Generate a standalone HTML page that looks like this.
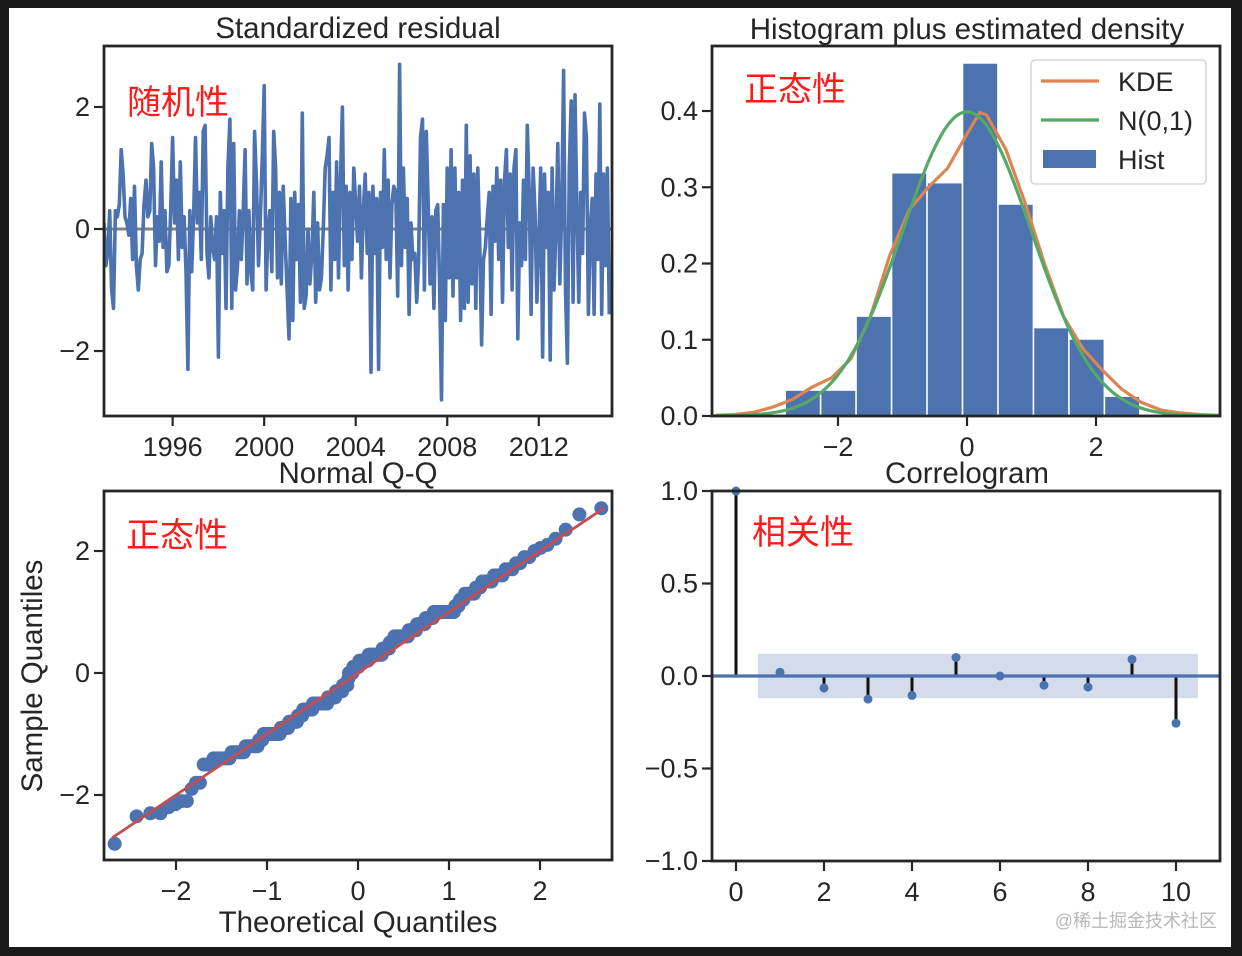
<!DOCTYPE html>
<html><head><meta charset="utf-8"><style>
html,body{margin:0;padding:0;background:#1a1a1a;}
#wrap{position:relative;width:1242px;height:956px;background:#1a1a1a;overflow:hidden;}
svg{position:absolute;left:0;top:0;}
text{font-family:"Liberation Sans","Noto Sans CJK SC",sans-serif;fill:#262626;}
.cn{font-family:"Liberation Sans","Noto Sans CJK SC",sans-serif;fill:#ff1a1a;}
</style></head><body>
<div id="wrap">
<svg id="s" width="1242" height="956"></svg>
</div>
<script>
const residuals=[0.1,-0.6,-0.4,0.3,-1.0,-1.3,0.3,0.2,0.4,1.3,0.9,0.2,
0.1,-0.1,0.5,-0.5,0.7,-0.6,-1.0,-0.5,-0.4,0.4,0.8,0.2,
0.3,1.4,1.0,-0.6,0.2,-0.2,1.1,-0.3,0.3,-0.7,-0.6,0.3,
1.5,0.1,0.8,-0.5,1.1,-0.3,0.2,-0.7,-2.3,0.3,-0.7,0.2,
1.5,0.1,0.6,-0.5,1.6,1.7,-0.4,-0.8,0.2,-0.3,-0.5,0.2,
-2.1,0.6,-0.4,0.3,-1.3,1.0,1.8,-1.3,1.4,-1.0,-0.6,0.3,
-0.5,0.3,1.3,-0.9,0.3,-0.7,-1.0,1.6,0.7,-0.6,0.2,1.2,
2.35,-1.0,0.0,0.3,-0.7,1.6,1.0,-0.8,0.6,-0.9,0.7,-0.2,
-1.0,-1.8,0.5,-1.5,0.6,-0.5,0.4,-1.2,1.9,-1.3,-1.1,0.0,
-0.9,-0.4,0.6,-1.2,0.1,-1.0,-0.8,0.0,1.0,1.2,1.5,-1.0,
0.6,-0.5,1.1,-0.8,0.8,2.0,-0.6,0.7,-1.0,0.6,-0.5,1.0,
0.4,-0.2,0.7,-0.8,0.3,0.9,-0.4,0.6,-2.35,0.7,-0.4,0.5,
-2.3,0.6,-0.3,1.3,-0.5,0.8,-0.8,0.4,0.7,0.6,-1.1,2.7,
-0.6,1.0,-0.3,0.5,-1.4,0.1,-0.5,-0.4,-1.2,-0.5,1.5,1.8,
-1.0,1.6,0.4,-0.9,0.2,-1.3,0.3,0.4,-0.9,-2.8,0.4,-1.5,
1.0,-0.8,1.3,-1.1,1.0,-0.8,0.6,-1.5,0.8,-1.3,1.7,-1.2,
1.2,-0.9,0.9,-1.3,1.0,-0.2,-1.9,-0.5,-0.3,0.2,0.6,-1.4,
0.7,-0.2,1.0,-0.5,0.8,-1.2,0.8,1.3,-0.3,0.9,-1.0,1.0,
1.3,-1.8,0.1,-0.6,0.8,-0.5,1.7,0.6,-1.4,1.0,0.3,-1.2,
-0.2,1.0,-2.1,0.9,-0.3,0.6,-2.15,1.0,-1.0,0.0,1.4,-0.9,
0.3,2.6,-1.0,-2.2,1.0,2.1,-1.2,2.2,0.3,-1.2,0.6,-0.4,
1.9,1.5,-1.4,0.0,0.5,-1.4,0.9,-0.5,2.05,-1.4,0.9,-0.6,
1.0,-1.4];
const startYear=1993.0;
const yearTicks=[1996,2000,2004,2008,2012];
const residTicks=[-2,0,2];
const histEdgesStart=-2.82, histBinWidth=0.55;
const histHeights=[0.033,0.033,0.13,0.318,0.305,0.462,0.277,0.115,0.10,0.025];
const kdeX=[-3.9,-3.6,-3.3,-3.0,-2.7,-2.4,-2.1,-1.8,-1.5,-1.2,-0.9,-0.6,-0.3,0.0,0.2,0.3,0.6,0.9,1.2,1.5,1.8,2.1,2.4,2.7,3.0,3.3,3.6,3.9];
const kdeY=[0.001,0.002,0.005,0.012,0.022,0.038,0.05,0.075,0.13,0.21,0.27,0.30,0.325,0.37,0.398,0.395,0.35,0.28,0.20,0.13,0.088,0.06,0.035,0.018,0.008,0.004,0.002,0.001];
const histYTicks=[0.0,0.1,0.2,0.3,0.4];
const histXTicks=[-2,0,2];
const qqXTicks=[-2,-1,0,1,2];
const qqYTicks=[-2,0,2];
const acfLags=[0,1,2,3,4,5,6,7,8,9,10];
const acfValues=[1.0,0.02,-0.065,-0.125,-0.105,0.10,0.0,-0.05,-0.06,0.09,-0.255];
const acfConf=0.12;
const acfYTicks=[-1.0,-0.5,0.0,0.5,1.0];
const acfXTicks=[0,2,4,6,8,10];

const NS="http://www.w3.org/2000/svg";
const svg=document.getElementById('s');
function el(tag,attrs,parent,text){const e=document.createElementNS(NS,tag);for(const k in attrs)e.setAttribute(k,attrs[k]);if(text!==undefined)e.textContent=text;(parent||svg).appendChild(e);return e;}
function fmt(v,d){const s=Math.abs(v).toFixed(d);return (v<0?'\u2212':'')+s;}
function lin(d0,d1,p0,p1){return v=>p0+(v-d0)*(p1-p0)/(d1-d0);}

const bg=el('rect',{x:9,y:8,width:1222,height:939,fill:'#fff'});



const TF=27;
function axesFrame(g,L,T,R,B){const r=el('rect',{x:L,y:T,width:R-L,height:B-T,fill:'none',stroke:'#262626','stroke-width':2.8},g);

}
function yTick(g,L,y,label,name){const t=el('line',{x1:L-10,x2:L,y1:y,y2:y,stroke:'#262626','stroke-width':2.2},g);


const tx=el('text',{x:L-14,y:y+9,'text-anchor':'end','font-size':TF},g,label);

}
function xTick(g,B,x,label,name){const t=el('line',{x1:x,x2:x,y1:B,y2:B+10,stroke:'#262626','stroke-width':2.2},g);


const tx=el('text',{x:x,y:B+40,'text-anchor':'middle','font-size':TF},g,label);

}
function title(g,x,y,t,name){const e=el('text',{x:x,y:y,'text-anchor':'middle','font-size':29.5},g,t);

}
function cn(g,x,y,t,name){const e=el('text',{x:x,y:y,'font-size':34,class:'cn'},g,t);

}
function clip(id,L,T,R,B){const d=el('clipPath',{id:id});el('rect',{x:L,y:T,width:R-L,height:B-T},d);}

// Panel 1
{const L=104,T=46,R=612,B=416;
const g=el('g',{});


clip('c1',L,T,R,B);
const xs=lin(1993.0,2015.2,L,R), ys=lin(0,2,229,107);
const z=el('line',{x1:L,x2:R,y1:ys(0),y2:ys(0),stroke:'#808080','stroke-width':3},g);


const pts=residuals.map((v,i)=>xs(startYear+i/12).toFixed(1)+','+ys(v).toFixed(1)).join(' ');
const pl=el('polyline',{points:pts,fill:'none',stroke:'#4c72b0','stroke-width':3.6,'stroke-linejoin':'round','clip-path':'url(#c1)'},g);


axesFrame(g,L,T,R,B);
residTicks.forEach(v=>yTick(g,L,ys(v),fmt(v,0),'resid-y'));
yearTicks.forEach(v=>xTick(g,B,xs(v),String(v),'year-x'));
title(g,358,38,'Standardized residual','resid-title');
cn(g,127,114,'随机性','randomness-label');}

// Panel 2
{const L=712,T=46,R=1220,B=416;
const g=el('g',{});


clip('c2',L,T,R,B);
const xs=lin(0,2,967,1096), ys=lin(0,0.4,416,111);
histHeights.forEach((h,i)=>{const x0=xs(histEdgesStart+i*histBinWidth),x1=xs(histEdgesStart+(i+1)*histBinWidth);
const r=el('rect',{x:x0+0.8,y:ys(h),width:x1-x0-1.6,height:ys(0)-ys(h),fill:'#4c72b0'},g);

});
const kp=kdeX.map((x,i)=>xs(x).toFixed(1)+','+ys(kdeY[i]).toFixed(1)).join(' ');
const k=el('polyline',{points:kp,fill:'none',stroke:'#dd8452','stroke-width':3.2,'clip-path':'url(#c2)'},g);


let np=[];for(let x=-3.95;x<=3.95;x+=0.05){np.push(xs(x).toFixed(1)+','+ys(Math.exp(-x*x/2)/Math.sqrt(2*Math.PI)).toFixed(1));}
const n=el('polyline',{points:np.join(' '),fill:'none',stroke:'#55a868','stroke-width':3.2,'clip-path':'url(#c2)'},g);


axesFrame(g,L,T,R,B);
histYTicks.forEach(v=>yTick(g,L,ys(v),v.toFixed(1),'hist-y'));
histXTicks.forEach(v=>xTick(g,B,xs(v),fmt(v,0),'hist-x'));
title(g,967,39,'Histogram plus estimated density','hist-title');
cn(g,744,101,'正态性','normality-label-hist');
const lg=el('g',{},g);


el('rect',{x:1031,y:60,width:175,height:124,rx:4,fill:'#fff',stroke:'#d6d6d6','stroke-width':1.5},lg);
const items=[['KDE','#dd8452',81],['N(0,1)','#55a868',120]];
items.forEach(it=>{const l=el('line',{x1:1041,x2:1099,y1:it[2],y2:it[2],stroke:it[1],'stroke-width':3.2},lg);


const t=el('text',{x:1118,y:it[2]+10,'font-size':TF},lg,it[0]);

});
const hb=el('rect',{x:1043,y:150,width:53,height:18,fill:'#4c72b0'},lg);


const ht=el('text',{x:1118,y:169,'font-size':TF},lg,'Hist');

}

function ppf(p){const a=[-39.69683028665376,220.9460984245205,-275.9285104469687,138.357751867269,-30.66479806614716,2.506628277459239],
b=[-54.47609879822406,161.5858368580409,-155.6989798598866,66.80131188771972,-13.28068155288572],
c=[-0.007784894002430293,-0.3223964580411365,-2.400758277161838,-2.549732539343734,4.374664141464968,2.938163982698783],
d=[0.007784695709041462,0.3224671290700398,2.445134137142996,3.754408661907416];
let q,r;if(p<0.02425){q=Math.sqrt(-2*Math.log(p));return(((((c[0]*q+c[1])*q+c[2])*q+c[3])*q+c[4])*q+c[5])/((((d[0]*q+d[1])*q+d[2])*q+d[3])*q+1);}
if(p>1-0.02425){q=Math.sqrt(-2*Math.log(1-p));return-(((((c[0]*q+c[1])*q+c[2])*q+c[3])*q+c[4])*q+c[5])/((((d[0]*q+d[1])*q+d[2])*q+d[3])*q+1);}
q=p-0.5;r=q*q;return(((((a[0]*r+a[1])*r+a[2])*r+a[3])*r+a[4])*r+a[5])*q/(((((b[0]*r+b[1])*r+b[2])*r+b[3])*r+b[4])*r+1);}

// Panel 3
{const L=104,T=491,R=612,B=860;
const g=el('g',{});


clip('c3',L,T,R,B);
const xs=lin(0,1,358,449), ys=lin(0,2,673,551);
const sorted=residuals.slice().sort((a,b)=>a-b);const n=sorted.length;
const pg=el('g',{'clip-path':'url(#c3)'},g);
sorted.forEach((v,i)=>{const tq=ppf((i+1)/(n+1));
const c=el('circle',{cx:xs(tq),cy:ys(v),r:7,fill:'#4c72b0'},pg);

});
const ln=el('line',{x1:xs(-2.7),y1:ys(-2.7),x2:xs(2.7),y2:ys(2.7),stroke:'#c44e52','stroke-width':2.8},g);


axesFrame(g,L,T,R,B);
qqYTicks.forEach(v=>yTick(g,L,ys(v),fmt(v,0),'qq-y'));
qqXTicks.forEach(v=>xTick(g,B,xs(v),fmt(v,0),'qq-x'));
title(g,358,483,'Normal Q-Q','qq-title');
const xl=el('text',{x:358,y:932,'text-anchor':'middle','font-size':29.5},g,'Theoretical Quantiles');


const yl=el('text',{x:0,y:0,'text-anchor':'middle','font-size':29.5,transform:'translate(42,676) rotate(-90)'},g,'Sample Quantiles');


cn(g,126,547,'正态性','normality-label-qq');}

// Panel 4
{const L=712,T=491,R=1220,B=861;
const g=el('g',{});


const xs=lin(0,10,736,1176), ys=lin(0,1,676,491);
const band=el('rect',{x:xs(0.5),y:ys(acfConf),width:xs(10.5)-xs(0.5),height:ys(-acfConf)-ys(acfConf),fill:'#c9d3e6',opacity:0.8},g);


acfLags.forEach((lag,i)=>{const s=el('line',{x1:xs(lag),x2:xs(lag),y1:ys(0),y2:ys(acfValues[i]),stroke:'#111','stroke-width':3},g);

});
const zl=el('line',{x1:L,x2:R,y1:ys(0),y2:ys(0),stroke:'#4c72b0','stroke-width':3.2},g);


acfLags.forEach((lag,i)=>{const c=el('circle',{cx:xs(lag),cy:ys(acfValues[i]),r:4.5,fill:'#4c72b0'},g);

});
axesFrame(g,L,T,R,B);
acfYTicks.forEach(v=>yTick(g,L,ys(v),fmt(v,1),'acf-y'));
acfXTicks.forEach(v=>xTick(g,B,xs(v),String(v),'acf-x'));
title(g,967,483,'Correlogram','acf-title');
cn(g,752,544,'相关性','correlation-label');
const wm=el('text',{x:1217,y:927,'text-anchor':'end','font-size':18,style:'fill:#b8b8b8'},g,'@稀土掘金技术社区');

}
</script>
</body></html>
